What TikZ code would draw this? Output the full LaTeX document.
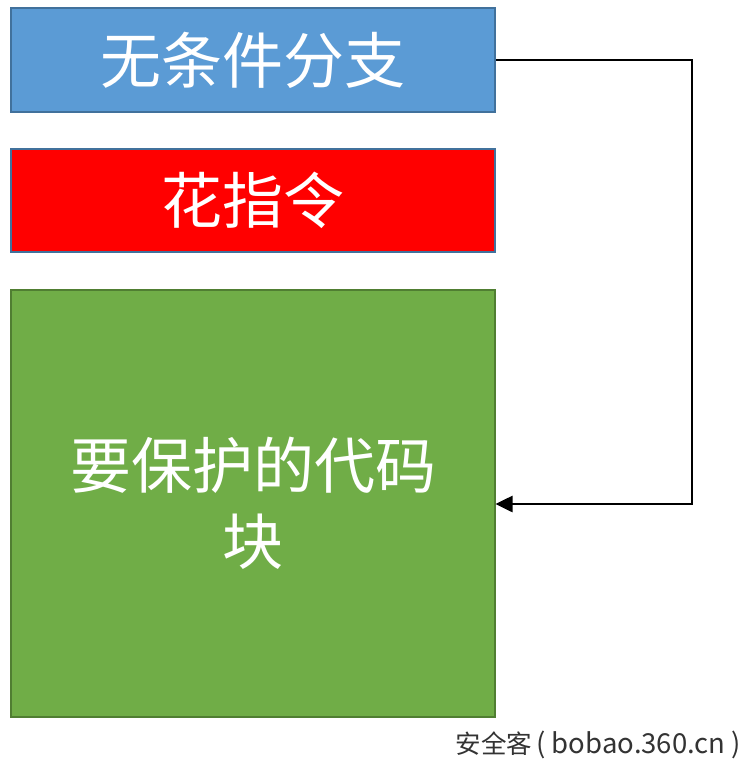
\documentclass[tikz,border=0pt]{standalone}
\usepackage{fontspec}
\newfontfamily\cjk{Noto Sans CJK SC}
\usetikzlibrary{arrows.meta}
\definecolor{bluefill}{HTML}{5B9BD5}
\definecolor{blueedge}{HTML}{41719C}
\definecolor{redfill}{HTML}{FF0000}
\definecolor{greenfill}{HTML}{70AD47}
\definecolor{greenedge}{HTML}{507E32}
\definecolor{wmgray}{HTML}{333333}
\tikzset{
  blockbox/.style={draw, line width=2pt, minimum width=484pt, anchor=north west, inner sep=0pt, text=white, font=\cjk\fontsize{61}{76}\selectfont, align=center},
  link/.style={draw=black, line width=2.6pt, -{Triangle[length=17pt,width=16pt]}}
}
\begin{document}
\begin{tikzpicture}[x=1pt,y=-1pt]
\useasboundingbox (0,0) rectangle (743,760);
\node[blockbox, fill=bluefill, draw=blueedge, minimum height=104pt] (uncond) at (10,7) {无条件分支};
\node[blockbox, fill=redfill, draw=blueedge, minimum height=103pt] (junk) at (10,148) {花指令};
\node[blockbox, fill=greenfill, draw=greenedge, minimum height=427pt] (code) at (10,289) {要保护的代码\\块};
\coordinate (c1) at (692,60);
\coordinate (c2) at (692,504);
\coordinate (tgt) at (495.5,504);
\draw[link] (uncond.east |- c1) -- (c1) -- (c2) -- (tgt);
\node[anchor=east, text=wmgray, font=\cjk\fontsize{25.5}{28}\selectfont, inner sep=0pt] (wm) at (741,745) {安全客\,{\fontsize{27.5}{28}\selectfont(\hspace{6pt}bobao.360.cn\hspace{6pt})}};
\end{tikzpicture}
\end{document}
